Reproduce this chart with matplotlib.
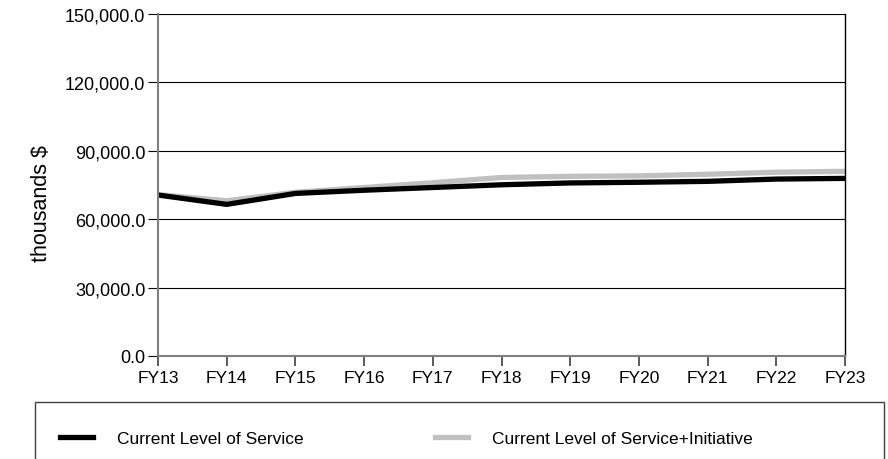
import numpy as np
import matplotlib
matplotlib.use("Agg")
import matplotlib.pyplot as plt
from matplotlib.patches import Rectangle
from matplotlib.ticker import FuncFormatter

plt.rcParams['font.family'] = ['Liberation Sans', 'DejaVu Sans']

years = ["FY13", "FY14", "FY15", "FY16", "FY17", "FY18",
         "FY19", "FY20", "FY21", "FY22", "FY23"]
# thousands $
current_service = [70600, 66500, 71300, 72700, 73900, 75100,
                   75900, 76200, 76600, 77600, 77900]
service_initiative = [70800, 68100, 71800, 73900, 76000, 78300,
                      78800, 79000, 79700, 80600, 81000]

fig = plt.figure(figsize=(8.88, 4.6), dpi=100)
ax = fig.add_axes([158 / 888, 1 - 357 / 460, (845 - 158) / 888, (357 - 15) / 460])

x = np.arange(len(years))
l2, = ax.plot(x, service_initiative, color="#c0c0c0", lw=3.8,
              label="Current Level of Service+Initiative", solid_joinstyle="miter")
l1, = ax.plot(x, current_service, color="black", lw=3.8,
              label="Current Level of Service", solid_joinstyle="miter")

ax.set_xlim(0, len(years) - 1)
ax.set_ylim(0, 150000)
ax.set_yticks(np.arange(0, 150001, 30000))
ax.yaxis.set_major_formatter(FuncFormatter(lambda v, p: f"{v:,.1f}"))
ax.set_xticks(x)
ax.set_xticklabels(years)

ax.grid(axis="y", color="black", lw=0.8)
ax.set_axisbelow(True)
for side in ["left", "bottom"]:
    ax.spines[side].set_color("#808080")
    ax.spines[side].set_linewidth(1.5)
ax.spines["top"].set_visible(False)
ax.spines["right"].set_color("black")
ax.spines["right"].set_linewidth(1.0)

ax.tick_params(axis="y", length=7, width=0.8, color="black", labelsize=13, pad=2)
ax.tick_params(axis="x", length=7, width=1.2, color="#404040", labelsize=12.5, pad=3)
ax.set_ylabel("thousands $", fontsize=15.5)
ax.yaxis.set_label_coords(-106 / 687, 0.45)

# legend box, runs past the bottom edge
fig.patches.append(Rectangle((35 / 888, -0.05), (884 - 35) / 888, 1 - 403 / 460 + 0.05,
                             transform=fig.transFigure, fill=False,
                             edgecolor="#404040", lw=1.0))
fig.legend(handles=[l1, l2], loc="center left", ncol=2, frameon=False,
           bbox_to_anchor=(44 / 888, 1 - 439 / 460), fontsize=12.5,
           handlelength=1.9, handletextpad=1.38, columnspacing=7.6)

fig.savefig("out.png", dpi=100)
